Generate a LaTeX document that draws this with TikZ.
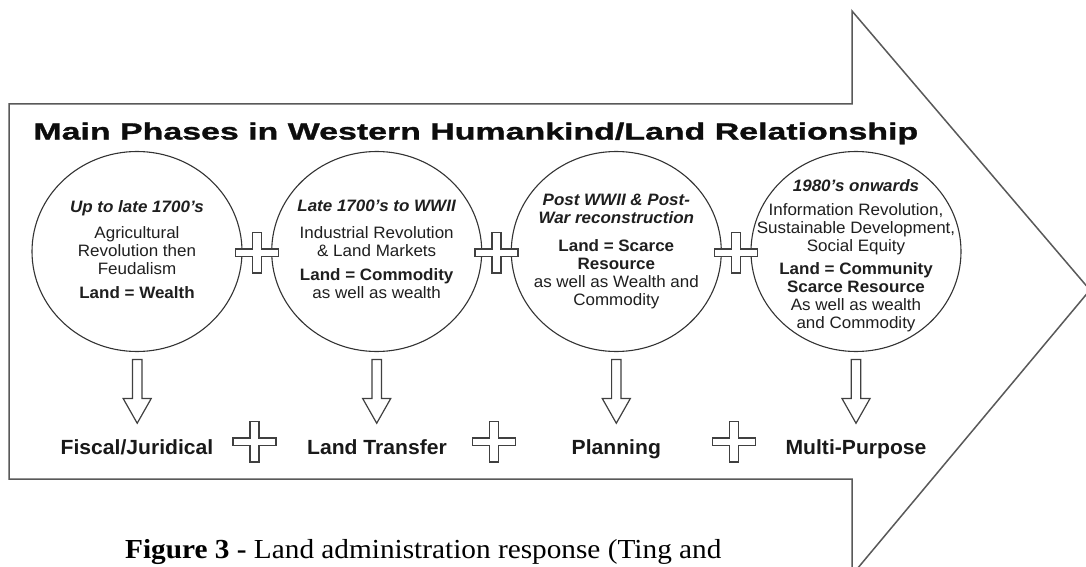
\documentclass[tikz,border=0pt]{standalone}
\usepackage{fontspec}
\setmainfont{Liberation Sans}[FakeStretch=1.03]
\newfontfamily\titlefont{Liberation Sans}[FakeStretch=1.455, BoldFeatures={FakeBold=1.3}]
\newfontfamily\capfont{Liberation Serif}[FakeStretch=1.065]
\usetikzlibrary{shapes.geometric,calc}
% fixed-height strut so that the top of a text block sits a known distance above its first baseline
\newcommand\phasestrut{\rule{0pt}{12pt}}

\begin{document}
\begin{tikzpicture}[x=1pt,y=-1pt,
  bigarrow/.style={draw=black!65, line width=1.5pt},
  outline/.style={draw=black!75, line width=1.2pt},
  phase/.style={ellipse, draw=black!80, line width=1.1pt,
    minimum width=210pt, minimum height=200pt, inner sep=0pt},
  phasetext/.style={anchor=north, align=center, inner sep=0pt,
    font=\fontsize{16.5}{17.9}\selectfont, text=black!88},
  resultlabel/.style={anchor=base, inner sep=0pt,
    font=\fontsize{20.5}{24}\selectfont\bfseries, text=black!90},
  plussign/.pic={\draw[outline, fill=white]
    (-4.5,-20.25) -- (4.5,-20.25) -- (4.5,-3.8) -- (21.5,-3.8) -- (21.5,3.8)
    -- (4.5,3.8) -- (4.5,20.25) -- (-4.5,20.25) -- (-4.5,3.8) -- (-21.5,3.8)
    -- (-21.5,-3.8) -- (-4.5,-3.8) -- cycle;},
  downarrow/.pic={\draw[outline, fill=white]
    (-4.7,0) -- (4.7,0) -- (4.7,39) -- (14,39) -- (0,63.7) -- (-14,39)
    -- (-4.7,39) -- cycle;}
]
\useasboundingbox (0,0) rectangle (1086,567);
\clip (0,0) rectangle (1086,567);
\fill[white] (0,0) rectangle (1086,567);

% the large block arrow carrying the whole sequence
\draw[bigarrow] (9,104) -- (852,104) -- (852,11) -- (1090,290) -- (852,575)
  -- (852,479) -- (9,479) -- cycle;

% title
\node[anchor=base, inner sep=0pt, text=black!95,
  font=\titlefont\bfseries\fontsize{23.3}{28}\selectfont] (title) at (475.8,139.5)
  {Main Phases in Western Humankind/Land Relationship};

% the four phases
\node[phase] (c1) at (137,251.5) {};
\node[phase] (c2) at (376.7,251.5) {};
\node[phase] (c3) at (616.3,251.5) {};
\node[phase] (c4) at (856,251.5) {};

\node[phasetext] (t1) at (137,200.5)
  {\phasestrut\textbf{\textit{Up to late 1700’s}}\\[8pt]
   Agricultural\\ Revolution then\\ Feudalism\\[6.4pt]
   \textbf{Land = Wealth}};
\node[phasetext] (t2) at (376.7,199.7)
  {\phasestrut\textbf{\textit{Late 1700’s to WWII}}\\[8.7pt]
   Industrial Revolution\\ \& Land Markets\\[6.4pt]
   \textbf{Land = Commodity}\\ as well as wealth};
\node[phasetext] (t3) at (616.3,193)
  {\phasestrut\textbf{\textit{Post WWII \& Post-}}\\
   \textbf{\textit{War reconstruction}}\\[10.5pt]
   \textbf{Land = Scarce}\\ \textbf{Resource}\\
   as well as Wealth and\\ Commodity};
\node[phasetext] (t4) at (856,179.7)
  {\phasestrut\textbf{\textit{1980’s onwards}}\\[5.4pt]
   Information Revolution,\\ Sustainable Development,\\ Social Equity\\[5.4pt]
   \textbf{Land = Community}\\ \textbf{Scarce Resource}\\
   As well as wealth\\ and Commodity};

% plus signs joining the phases
\pic at ($(c1.east)!0.5!(c2.west)+(0,1.3)$) {plussign};
\pic at ($(c2.east)!0.5!(c3.west)+(0,1.3)$) {plussign};
\pic at ($(c3.east)!0.5!(c4.west)+(0,1.3)$) {plussign};

% land administration responses
\node[resultlabel] (l1) at (137,454.3) {Fiscal/Juridical};
\node[resultlabel] (l2) at (377,454.3) {Land Transfer};
\node[resultlabel] (l3) at (616.3,454.3) {Planning};
\node[resultlabel] (l4) at (856,454.3) {Multi-Purpose};

\pic at ($(c1.south)+(0.2,7.5)$) {downarrow};
\pic at ($(c2.south)+(0,7.5)$) {downarrow};
\pic at ($(c3.south)+(0,7.5)$) {downarrow};
\pic at ($(c4.south)+(0,7.5)$) {downarrow};

\pic at ($(l1.base)!0.5!(l2.base)+(-2.5,-12.5)$) {plussign};
\pic at ($(l2.base)!0.5!(l3.base)+(-2.5,-12.5)$) {plussign};
\pic at ($(l3.base)!0.5!(l4.base)+(-2.5,-12.5)$) {plussign};

% caption
\node[anchor=base west, inner sep=0pt, text=black,
  font=\capfont\fontsize{27.5}{32}\selectfont] (caption) at (125,558.3)
  {\textbf{Figure 3 -} Land administration response (Ting and};
\end{tikzpicture}
\end{document}
